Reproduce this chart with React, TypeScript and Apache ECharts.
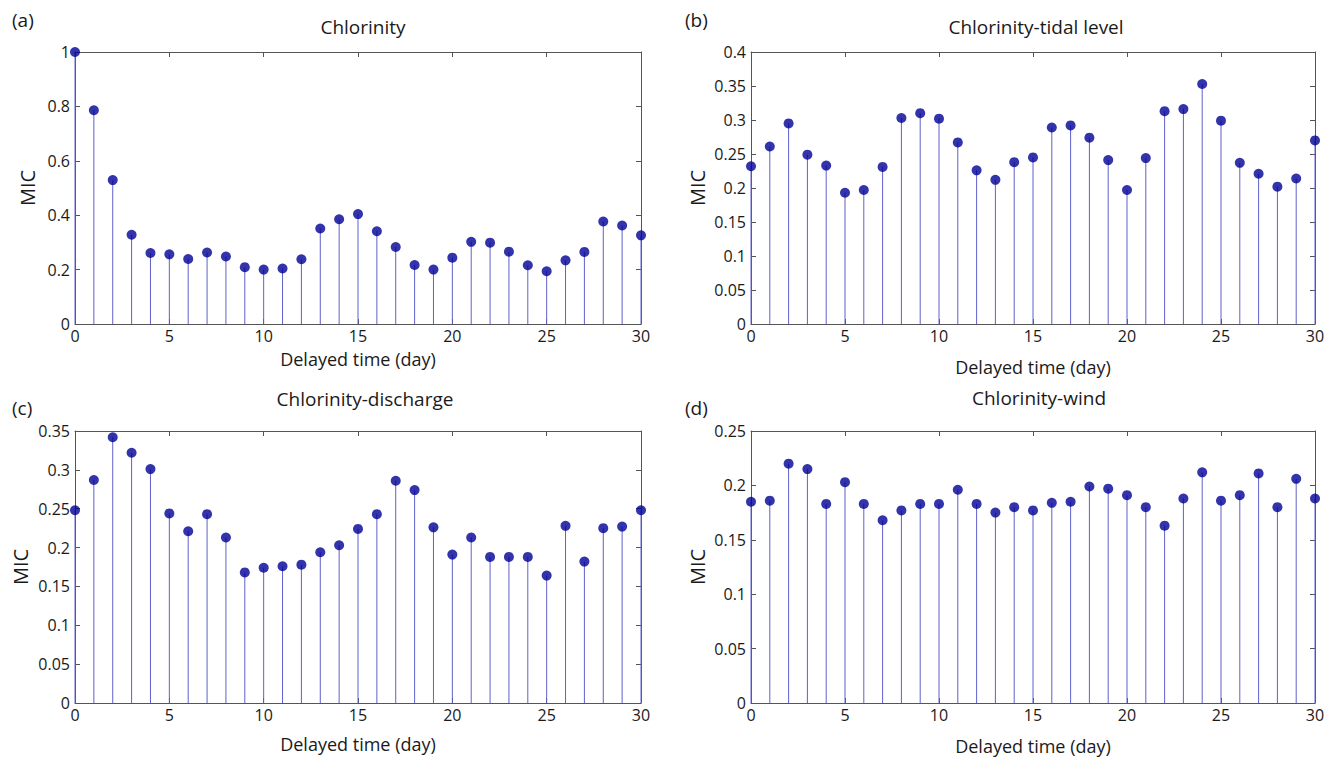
import React, { useEffect, useRef } from "react";
import * as echarts from "echarts";

const days = [0,1,2,3,4,5,6,7,8,9,10,11,12,13,14,15,16,17,18,19,20,21,22,23,24,25,26,27,28,29,30];

const chlorinity = [1.0,0.786,0.529,0.328,0.261,0.256,0.239,0.263,0.248,0.209,0.2,0.204,0.238,0.351,0.385,0.404,0.341,0.283,0.217,0.2,0.244,0.302,0.299,0.266,0.216,0.194,0.234,0.265,0.377,0.362,0.326];
const tidal = [0.232,0.261,0.295,0.249,0.233,0.193,0.197,0.231,0.303,0.31,0.302,0.267,0.226,0.212,0.238,0.245,0.289,0.292,0.274,0.241,0.197,0.244,0.313,0.316,0.353,0.299,0.237,0.221,0.202,0.214,0.27];
const discharge = [0.248,0.287,0.342,0.322,0.301,0.244,0.221,0.243,0.213,0.168,0.174,0.176,0.178,0.194,0.203,0.224,0.243,0.286,0.274,0.226,0.191,0.213,0.188,0.188,0.188,0.164,0.228,0.182,0.225,0.227,0.248];
const wind = [0.185,0.186,0.22,0.215,0.183,0.203,0.183,0.168,0.177,0.183,0.183,0.196,0.183,0.175,0.18,0.177,0.184,0.185,0.199,0.197,0.191,0.18,0.163,0.188,0.212,0.186,0.191,0.211,0.18,0.206,0.188];

const panelTitles = ["Chlorinity", "Chlorinity-tidal level", "Chlorinity-discharge", "Chlorinity-wind"];
const panelLetters = ["(a)", "(b)", "(c)", "(d)"];
const yMax = [1, 0.4, 0.35, 0.25];
const yStep = [0.2, 0.05, 0.05, 0.05];
const xTickStep = 5;
const xLabel = "Delayed time (day)";
const yLabel = "MIC";

const FONT = "Open Sans";
const STEM = "#6060cc";
const DOT = "#000096";
const AXIS = "#555555";
const TEXT = "#1a1a1a";

export default function App() {
  const ref = useRef<HTMLDivElement>(null);
  useEffect(() => {
    if (!ref.current) return;
    const chart = echarts.init(ref.current, undefined, { renderer: "svg" });
    const seriesData = [chlorinity, tidal, discharge, wind];
    const grids = [
      { left: 75, top: 52, width: 566, height: 272 },
      { left: 751, top: 52, width: 564, height: 272 },
      { left: 75, top: 431, width: 566, height: 272 },
      { left: 751, top: 431, width: 564, height: 272 },
    ];
    const xNameGap = [26, 34, 32, 34];
    const yNameGap = [38, 44, 45, 44];
    const titlePos = [
      { cx: 358, y: 12 },
      { cx: 1031, y: 12 },
      { cx: 360, y: 384 },
      { cx: 1034, y: 383 },
    ];
    const letterPos = [
      { x: 7, y: 5 },
      { x: 680, y: 5 },
      { x: 7, y: 393 },
      { x: 680, y: 393 },
    ];

    const xAxes: any[] = [];
    const yAxes: any[] = [];
    const series: any[] = [];
    grids.forEach((g, i) => {
      const tickCommon = { show: true, inside: true, length: 5, lineStyle: { color: AXIS, width: 1 } };
      const lineCommon = { show: true, onZero: false, lineStyle: { color: AXIS, width: 1 } };
      xAxes.push({
        type: "value", gridIndex: i, min: 0, max: 30, interval: xTickStep, position: "bottom",
        name: xLabel, nameLocation: "middle", nameGap: xNameGap[i],
        nameTextStyle: { fontFamily: FONT, fontSize: 18, color: TEXT },
        axisLine: lineCommon, axisTick: tickCommon, splitLine: { show: false },
        axisLabel: { fontFamily: FONT, fontSize: 16, color: TEXT, margin: 4 },
      });
      xAxes.push({
        type: "value", gridIndex: i, min: 0, max: 30, interval: xTickStep, position: "top",
        axisLine: lineCommon, axisTick: tickCommon, splitLine: { show: false },
        axisLabel: { show: false },
      });
      yAxes.push({
        type: "value", gridIndex: i, min: 0, max: yMax[i], interval: yStep[i], position: "left",
        name: yLabel, nameLocation: "middle", nameGap: yNameGap[i],
        nameTextStyle: { fontFamily: FONT, fontSize: 20, color: TEXT },
        axisLine: lineCommon, axisTick: tickCommon, splitLine: { show: false },
        axisLabel: { fontFamily: FONT, fontSize: 16, color: TEXT, margin: 5 },
      });
      yAxes.push({
        type: "value", gridIndex: i, min: 0, max: yMax[i], interval: yStep[i], position: "right",
        axisLine: lineCommon, axisTick: tickCommon, splitLine: { show: false },
        axisLabel: { show: false },
      });
      const data = days.map((d, k) => [d, seriesData[i][k]]);
      series.push({
        type: "custom", xAxisIndex: 2 * i, yAxisIndex: 2 * i, clip: false, z: 2,
        renderItem: (params: any, api: any) => {
          const p0 = api.coord([api.value(0), 0]);
          const p1 = api.coord([api.value(0), api.value(1)]);
          return {
            type: "line",
            shape: { x1: p0[0], y1: p0[1], x2: p1[0], y2: p1[1] },
            style: { stroke: STEM, lineWidth: 1 },
          };
        },
        data,
      });
      series.push({
        type: "scatter", xAxisIndex: 2 * i, yAxisIndex: 2 * i, clip: false, z: 3,
        symbol: "circle", symbolSize: 10, itemStyle: { color: DOT },
        data,
      });
    });

    const titles: any[] = [];
    panelTitles.forEach((t, i) => {
      titles.push({
        text: t, left: titlePos[i].cx, top: titlePos[i].y, textAlign: "center",
        textStyle: { fontFamily: FONT, fontSize: 19, fontWeight: "normal", color: TEXT },
      });
    });
    panelLetters.forEach((t, i) => {
      titles.push({
        text: t, left: letterPos[i].x, top: letterPos[i].y,
        textStyle: { fontFamily: FONT, fontSize: 19, fontWeight: "normal", color: TEXT },
      });
    });

    chart.setOption({
      animation: false,
      backgroundColor: "#ffffff",
      title: titles,
      grid: grids.map((g) => ({ ...g, containLabel: false })),
      xAxis: xAxes,
      yAxis: yAxes,
      series,
    });
    return () => chart.dispose();
  }, []);
  return <div ref={ref} style={{ position: "fixed", left: 0, top: 0, width: 1332, height: 758 }} />;
}
